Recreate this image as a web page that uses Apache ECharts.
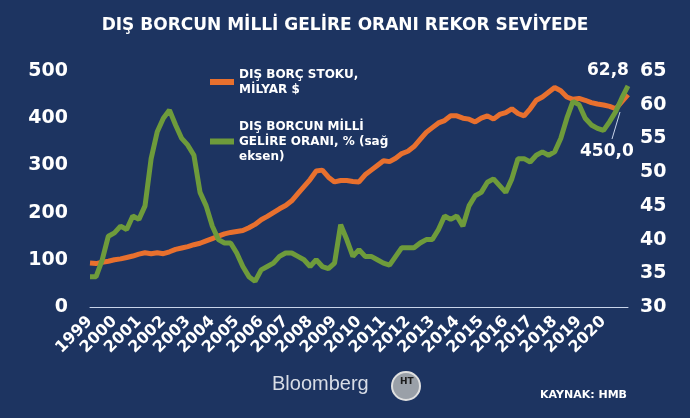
<!DOCTYPE html>
<html><head><meta charset="utf-8">
<script src="https://cdn.jsdelivr.net/npm/echarts@6/dist/echarts.min.js"></script>
<style>html,body{margin:0;padding:0;background:#1d3461;}#c{width:690px;height:418px;}</style>
</head><body><div id="c"></div>
<script>
var years = ["1999","2000","2001","2002","2003","2004","2005","2006","2007","2008","2009","2010",
    "2011","2012","2013","2014","2015","2016","2017","2018","2019","2020","2021"];
var debtStock = [93,92,95,97, 100,102,105,108, 112,115,113,115, 113,117,122,125, 128,132,135,140,
    145,150,155,158, 160,162,168,175, 185,192,200,208, 215,225,240,255, 270,288,290,275,
    265,268,268,266, 265,280,290,300, 310,308,315,325, 330,340,355,370, 380,390,395,405,
    405,400,398,392, 400,405,398,408, 412,420,410,405, 420,438,445,455, 465,458,445,440,
    442,438,433,430, 428,425,420,435, 450];
var debtToGdp = [34.5,34.5,37,40.5, 41,42,41.5,43.5, 43,45,52,56, 58,59.2,57,55, 54,52.5,47,45,
    42,40,39.5,39.5, 38,36,34.5,33.8, 35.5,36,36.5,37.5, 38,38,37.5,37, 36,37,36,35.7,
    36.5,42.2,40,37.5, 38.5,37.5,37.5,37, 36.5,36.2,37.5,38.8, 38.8,38.8,39.5,40,
    40,41.5,43.5,43, 43.5,42,45,46.5, 47,48.5,49,48, 47,49,52,52, 51.5,52.5,53,52.5,
    53,55,58,60.5, 60,58,57,56.5, 56.2,57.5,59,61, 62.8];

var cats = [];
debtStock.forEach(function (v, i) {
    cats.push(years[Math.floor(i / 4)] + "Q" + (i % 4 + 1));
});

var chart = echarts.init(document.getElementById("c"));
var font = "'DejaVu Sans', sans-serif";
chart.setOption({
    backgroundColor: "#1d3461",
    animation: false,
    title: {
        text: "DIŞ BORCUN MİLLİ GELİRE ORANI REKOR SEVİYEDE",
        left: "center", top: 12,
        textStyle: {color: "#fff", fontSize: 17, fontWeight: "bold", fontFamily: font}
    },
    legend: {
        orient: "vertical", left: 205, top: 62, itemGap: 22,
        itemWidth: 24, itemHeight: 6, icon: "rect",
        textStyle: {color: "#fff", fontSize: 12, fontWeight: "bold", fontFamily: font, lineHeight: 15},
        data: ["DIŞ BORÇ STOKU,\nMİLYAR $", "DIŞ BORCUN MİLLİ\nGELİRE ORANI, % (sağ\neksen)"]
    },
    grid: {left: 90, right: 62, top: 71, bottom: 111},
    xAxis: {
        type: "category", data: cats, boundaryGap: false,
        axisLine: {lineStyle: {color: "#c8d4ea", width: 1}},
        axisTick: {show: false},
        axisLabel: {
            color: "#fff", fontSize: 16, fontWeight: "bold", fontFamily: font, rotate: 45, margin: 12,
            interval: function (i) { return i % 4 === 0 && i < 88; },
            formatter: function (v) { return v.slice(0, 4); }
        }
    },
    yAxis: [{
        type: "value", min: 0, max: 500, interval: 100,
        splitLine: {show: false},
        axisLabel: {color: "#fff", fontSize: 19, fontWeight: "bold", fontFamily: font, margin: 22}
    }, {
        type: "value", min: 30, max: 65, interval: 5,
        splitLine: {show: false},
        axisLabel: {color: "#fff", fontSize: 19, fontWeight: "bold", fontFamily: font, margin: 12}
    }],
    series: [{
        name: "DIŞ BORÇ STOKU,\nMİLYAR $", type: "line", data: debtStock,
        yAxisIndex: 0, showSymbol: false, color: "#e8702e",
        lineStyle: {width: 5, color: "#e8702e"}
    }, {
        name: "DIŞ BORCUN MİLLİ\nGELİRE ORANI, % (sağ\neksen)", type: "line", data: debtToGdp,
        yAxisIndex: 1, showSymbol: false, color: "#6e9b3b",
        lineStyle: {width: 5, color: "#6e9b3b"}
    }],
    graphic: [
        {type: "text", left: 587, top: 62, style: {text: "62,8", fill: "#fff", font: "bold 17px " + font}},
        {type: "text", left: 580, top: 143, style: {text: "450,0", fill: "#fff", font: "bold 17px " + font}},
        {type: "line", shape: {x1: 612, y1: 139, x2: 620, y2: 112}, style: {stroke: "#c8d4ea", lineWidth: 1}},
        {type: "text", left: 272, top: 374, style: {text: "Bloomberg", fill: "#d8dde6", font: "20px 'Liberation Sans', sans-serif"}},
        {type: "circle", shape: {cx: 406, cy: 386, r: 14}, style: {fill: "#9aa0a8", stroke: "#e0e0e0", lineWidth: 2}},
        {type: "text", left: 400, top: 377, style: {text: "HT", fill: "#1d1d1d", font: "bold 9px " + font}},
        {type: "text", left: 540, top: 390, style: {text: "KAYNAK: HMB", fill: "#fff", font: "bold 11px " + font}}
    ]
});
</script></body></html>
